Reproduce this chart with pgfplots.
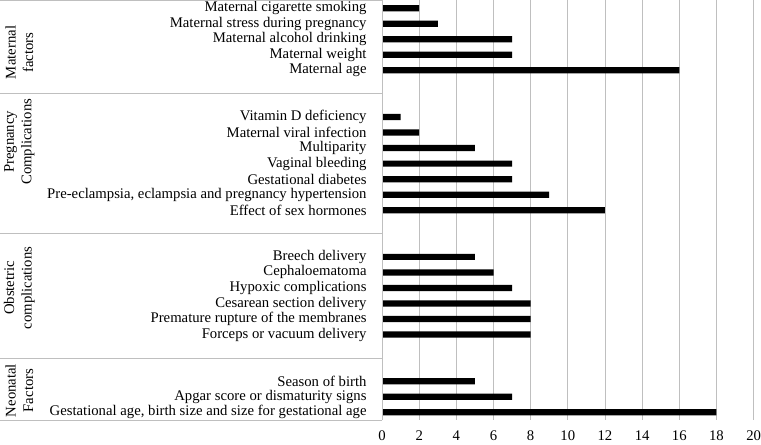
\documentclass[border=0pt]{standalone}
\usepackage{pgfplots}
\pgfplotsset{compat=1.18}
\usepackage{fontspec}
\setmainfont{Liberation Serif}
\begin{document}
\begin{tikzpicture}[font=\fontsize{14.7}{17.5}\selectfont]
\begin{axis}[
  scale only axis, width=371pt, height=419pt,
  xbar, bar width=0.4,
  xmin=0, xmax=20, xtick={0,2,...,20},
  ymin=-0.5, ymax=26.5, y dir=reverse,
  ytick={0,1,2,3,4,7,8,9,10,11,12,13,16,17,18,19,20,21,24,25,26},
  yticklabels={
    Maternal cigarette smoking,
    Maternal stress during pregnancy,
    Maternal alcohol drinking,
    Maternal weight,
    Maternal age\ ,
    Vitamin D deficiency\ ,
    Maternal viral infection\ ,
    Multiparity\ ,
    Vaginal bleeding\ ,
    Gestational diabetes,
    {Pre-eclampsia, eclampsia and pregnancy hypertension},
    Effect of sex hormones,
    Breech delivery,
    Cephaloematoma,
    Hypoxic complications,
    Cesarean section delivery,
    Premature rupture of the membranes,
    Forceps or vacuum delivery,
    Season of birth,
    Apgar score or dismaturity signs,
    {Gestational age, birth size and size for gestational age}},
  xmajorgrids, grid style={gray!50, line width=0.8pt},
  axis line style={draw=none},
  tick style={draw=none},
  yticklabel style={inner sep=0pt, anchor=east},
  yticklabel shift=11pt,
  xticklabel style={inner sep=0pt, anchor=north},
  xticklabel shift=10pt,
  /pgf/number format/assume math mode=true,
  clip=false,
]
\addplot[fill=black, draw=none] coordinates {
 (2,0) (3,1) (7,2) (7,3) (16,4)
 (1,7) (2,8) (5,9) (7,10) (7,11) (9,12) (12,13)
 (5,16) (6,17) (7,18) (8,19) (8,20) (8,21)
 (5,24) (7,25) (18,26)};
\draw[gray!50, line width=0.8pt] (axis cs:0,-0.5) -- (axis cs:0,26.5);
\pgfplotsinvokeforeach{-0.5,5.5,14.5,22.5,26.5}{
  \draw[gray!50, line width=0.8pt] (axis cs:0,#1) -- ([xshift=-381pt]axis cs:0,#1);
}
\path ([yshift=-24pt]axis cs:0,26.5) -- ([yshift=-24pt]axis cs:20,26.5);
\node[rotate=90, align=center, inner sep=0pt] at ([xshift=-362pt]axis cs:0,2.85) {Maternal\\factors};
\node[rotate=90, align=center, inner sep=0pt] at ([xshift=-362pt]axis cs:0,8.6) {Pregnancy\\Complications};
\node[rotate=90, align=center, inner sep=0pt] at ([xshift=-362pt]axis cs:0,18.0) {Obstetric\\complications};
\node[rotate=90, align=center, inner sep=0pt] at ([xshift=-362pt]axis cs:0,24.6) {Neonatal\\Factors};
\end{axis}
\end{tikzpicture}
\end{document}
